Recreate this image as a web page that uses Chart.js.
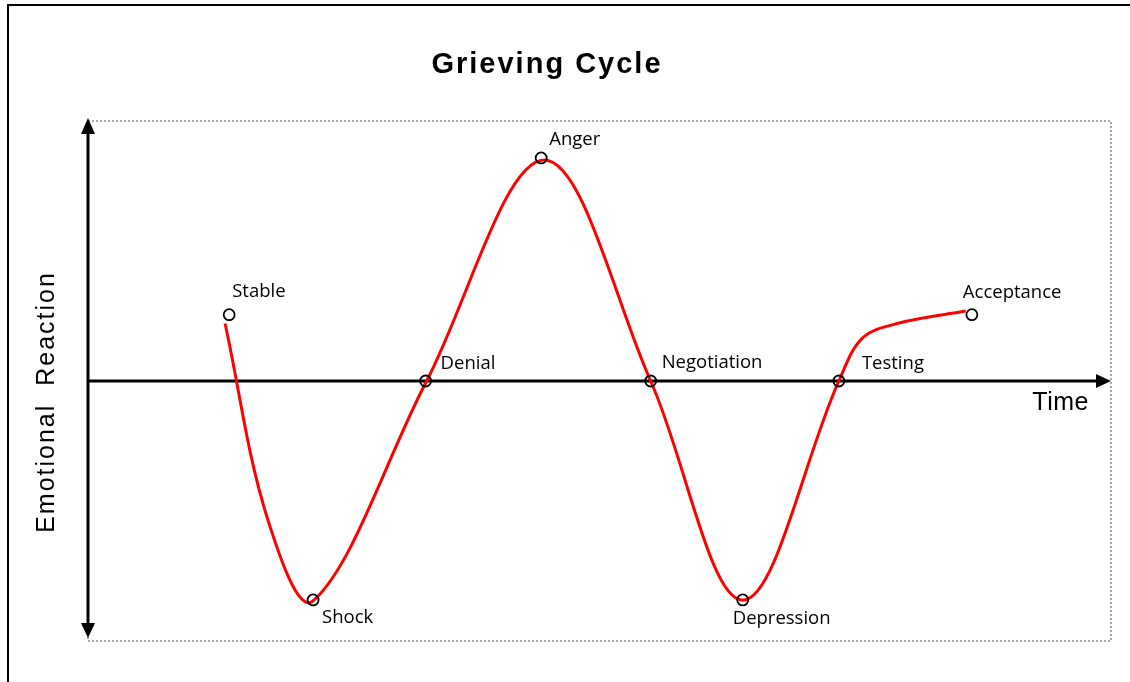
<!DOCTYPE html>
<html>
<head>
<meta charset="utf-8">
<script src="https://cdn.jsdelivr.net/npm/chart.js@4"></script>
<style>
    body { margin: 0; background: #fff; overflow: hidden; }
    #frame { position: absolute; left: 7px; top: 4px; width: 1200px; height: 800px; border: 2px solid #000; }
    #wrap { position: absolute; left: 0; top: 0; width: 1130px; height: 682px; }
</style>
</head>
<body>
<div id="frame"></div>
<div id="wrap"><canvas id="myChart" width="1130" height="682"></canvas></div>
<script>
// stage markers (x = time 0..100, y = emotional reaction -10..10)
const stageNames = ["Stable", "Shock", "Denial", "Anger", "Negotiation", "Depression", "Testing", "Acceptance"];
const stageX = [13.8, 22.0, 33.0, 44.3, 55.0, 64.0, 73.4, 86.4];
const stageY = [2.55, -8.42, 0, 8.58, 0, -8.42, 0, 2.55];

// red curve
const curveX = [13.4, 17.6, 22.0, 33.1, 44.6, 55.0, 64.0, 73.4, 75.7, 79.3, 85.8];
const curveY = [2.21, -5.36, -8.46, 0, 8.50, 0, -8.43, 0, 1.65, 2.23, 2.69];

const chartTitle = "Grieving Cycle";
const xTitle = "Time";
const yTitle = "Emotional  Reaction";

// label placement next to each marker, in pixels
const labelOffsets = [[3, -23], [9, 18], [15, -17], [8, -18], [11, -18], [-10, 19], [23, -17], [-9, -22]];

const decorPlugin = {
    id: "decor",
    beforeDatasetsDraw(chart) {
        const ctx = chart.ctx;
        const area = chart.chartArea;
        const xs = chart.scales.x;
        const ys = chart.scales.y;
        ctx.save();
        // dotted plot border
        ctx.strokeStyle = "#8c8c8c";
        ctx.lineWidth = 1.5;
        ctx.setLineDash([2, 2]);
        ctx.strokeRect(area.left, area.top, area.width, area.height);
        ctx.setLineDash([]);

        // axes with arrows
        const x0 = xs.getPixelForValue(0);
        const y0 = ys.getPixelForValue(0);
        ctx.strokeStyle = "#000";
        ctx.fillStyle = "#000";
        ctx.lineWidth = 3;
        ctx.beginPath();
        ctx.moveTo(x0, area.top + 10);
        ctx.lineTo(x0, area.bottom - 10);
        ctx.moveTo(x0, y0);
        ctx.lineTo(area.right - 12, y0);
        ctx.stroke();

        ctx.beginPath();
        ctx.moveTo(x0, area.top - 3);
        ctx.lineTo(x0 - 7, area.top + 13);
        ctx.lineTo(x0 + 7, area.top + 13);
        ctx.closePath();
        ctx.moveTo(x0, area.bottom - 3);
        ctx.lineTo(x0 - 7, area.bottom - 18);
        ctx.lineTo(x0 + 7, area.bottom - 18);
        ctx.closePath();
        ctx.moveTo(area.right, y0);
        ctx.lineTo(area.right - 15, y0 - 7);
        ctx.lineTo(area.right - 15, y0 + 7);
        ctx.closePath();
        ctx.fill();
        ctx.restore();
    },
    afterDraw(chart) {
        const ctx = chart.ctx;
        const xs = chart.scales.x;
        const ys = chart.scales.y;
        ctx.save();
        ctx.fillStyle = "#000";

        // title
        ctx.font = "bold 29px 'Liberation Sans', Arial, sans-serif";
        ctx.letterSpacing = "2px";
        ctx.textAlign = "center";
        ctx.textBaseline = "middle";
        ctx.fillText(chartTitle, 547, 65);

        // axis titles
        ctx.font = "25px 'Liberation Sans', Arial, sans-serif";
        ctx.letterSpacing = "0.5px";
        ctx.textAlign = "right";
        ctx.fillText(xTitle, chart.chartArea.right - 22, ys.getPixelForValue(0) + 22);
        ctx.save();
        ctx.letterSpacing = "2px";
        ctx.translate(47, 402);
        ctx.rotate(-Math.PI / 2);
        ctx.textAlign = "center";
        ctx.fillText(yTitle, 0, 0);
        ctx.restore();

        // stage labels
        ctx.font = "18.5px 'Open Sans', sans-serif";
        ctx.letterSpacing = "0px";
        ctx.textAlign = "left";
        stageNames.forEach((name, i) => {
            const px = xs.getPixelForValue(stageX[i]);
            const py = ys.getPixelForValue(stageY[i]);
            ctx.fillText(name, px + labelOffsets[i][0], py + labelOffsets[i][1]);
        });
        ctx.restore();
    }
};

const ctx = document.getElementById("myChart").getContext("2d");
new Chart(ctx, {
    type: "scatter",
    data: {
        datasets: [
            {
                label: "Stages",
                data: stageX.map((x, i) => ({ x: x, y: stageY[i] })),
                showLine: false,
                pointStyle: "circle",
                pointRadius: 5.5,
                borderColor: "#000",
                borderWidth: 1.8,
                backgroundColor: "rgba(0,0,0,0)",
                order: 0
            },
            {
                label: "Curve",
                data: curveX.map((x, i) => ({ x: x, y: curveY[i] })),
                showLine: true,
                pointRadius: 0,
                borderColor: "#ff0000",
                borderWidth: 3,
                tension: 0.35,
                fill: false,
                order: 1
            }
        ]
    },
    options: {
        responsive: false,
        animation: false,
        layout: { padding: { left: 88, top: 121, right: 19, bottom: 41 } },
        scales: {
            x: { type: "linear", min: 0, max: 100, display: false },
            y: { type: "linear", min: -10, max: 10, display: false }
        },
        plugins: {
            legend: { display: false },
            title: { display: false },
            tooltip: { enabled: false }
        }
    },
    plugins: [decorPlugin]
});
</script>
</body>
</html>
